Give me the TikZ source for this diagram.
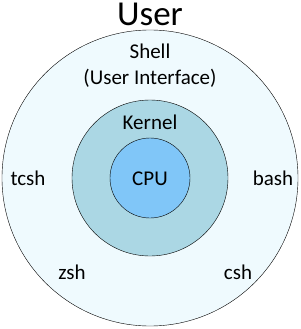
\documentclass[tikz,border=0pt]{standalone}
\usepackage{fontspec}
\setmainfont{Carlito}
\usetikzlibrary{positioning}
\definecolor{osShell}{HTML}{EFFAFE}
\definecolor{osKernel}{HTML}{ABD7E4}
\definecolor{osCPU}{HTML}{80C6F8}
\tikzset{
  ring/.style={draw, circle, inner sep=0pt, thin},
  shellring/.style={ring, fill=osShell, minimum size=296pt},
  kernelring/.style={ring, fill=osKernel, minimum size=156pt},
  cpuring/.style={ring, fill=osCPU, minimum size=80pt},
  lbl/.style={font=\fontsize{21}{26}\selectfont, align=center, inner sep=0pt},
  shname/.style={lbl}
}
\begin{document}
\begin{tikzpicture}[x=1pt, y=-1pt]
  \useasboundingbox (0,0) rectangle (300,329);
  \node[shellring] (shell) at (150,178) {};
  \node[kernelring] (kernel) at (150,178) {};
  \node[cpuring] (cpu) at (150,178) {};
  \node[font=\fontsize{35}{40}\selectfont, inner sep=0pt] (user) at (150,14) {User};
  \node[lbl] (shelltxt) at (150,66) {Shell\\(User Interface)};
  \node[lbl] (kerneltxt) at (150,122) {Kernel};
  \node[lbl] (cputxt) at (150,179) {CPU};
  \node[shname] (tcsh) at (28,178) {tcsh};
  \node[shname] (bash) at (273,178) {bash};
  \node[shname] (zsh) at (72,272) {zsh};
  \node[shname] (csh) at (238,272) {csh};
\end{tikzpicture}
\end{document}
